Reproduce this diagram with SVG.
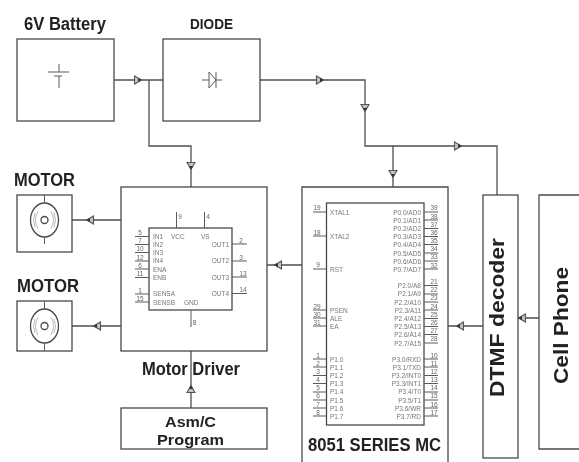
<svg xmlns="http://www.w3.org/2000/svg" width="579" height="462" viewBox="0 0 579 462">
<style>
.b{fill:none;stroke:#4a4a4a;stroke-width:1.3}
.c{fill:none;stroke:#4f4f4f;stroke-width:1.3}
.p{fill:none;stroke:#5a5a5a;stroke-width:1}
.q{fill:none;stroke:#aaa;stroke-width:.8}
.h{font-family:"Liberation Sans",Arial,sans-serif;font-weight:700;fill:#222}
.t{font-family:"Liberation Sans",Arial,sans-serif;font-size:6.500px;fill:#777}
.n{font-family:"Liberation Sans",Arial,sans-serif;font-size:6.500px;fill:#666;text-anchor:middle}
.e{text-anchor:end}
</style>
<defs>
<g id="ar"><path d="M-3.500,-4L3.500,0L-3.500,4Z" fill="#c4c4c4" stroke="#555" stroke-width="1.100"/><path d="M0,-2L3.500,0L0,2Z" fill="#333"/></g>
<filter id="s" x="0" y="0" width="100%" height="100%"><feGaussianBlur stdDeviation="0.45"/></filter>
</defs>
<rect width="579" height="462" fill="#fff"/>
<g filter="url(#s)">
<g id="connectors">
<path class="c" d="M114,80H163M149,80V146H191V187M260,80H365V146H497V195M393,146V187M72,220H121M72,326H121M302,265H267M191,351V408M448,326H483M518,318H539"/>
<use href="#ar" transform="translate(138,80)"/>
<use href="#ar" transform="translate(191,166) rotate(90)"/>
<use href="#ar" transform="translate(320,80)"/>
<use href="#ar" transform="translate(365,108) rotate(90)"/>
<use href="#ar" transform="translate(458,146)"/>
<use href="#ar" transform="translate(393,174) rotate(90)"/>
<use href="#ar" transform="translate(90,220) rotate(180)"/>
<use href="#ar" transform="translate(97,326) rotate(180)"/>
<use href="#ar" transform="translate(278,265) rotate(180)"/>
<use href="#ar" transform="translate(191,389) rotate(-90)"/>
<use href="#ar" transform="translate(460,326) rotate(180)"/>
<use href="#ar" transform="translate(522,318) rotate(180)"/>
</g>
<g id="battery">
<rect class="b" x="17" y="39" width="97" height="82"/>
<path class="p" d="M59,64V72M48,72H69M54,76H62M59,76V88"/>
<text class="h" x="24" y="30" font-size="18" textLength="82" lengthAdjust="spacingAndGlyphs">6V Battery</text>
</g>
<g id="diode">
<rect class="b" x="163" y="39" width="97" height="82"/>
<path class="p" d="M202,80H209M216,80H222M209,72L216,80L209,88ZM216,72V88"/>
<text class="h" x="190" y="28.500" font-size="15.500" textLength="43" lengthAdjust="spacingAndGlyphs">DIODE</text>
</g>
<g id="motor1">
<rect class="b" x="17" y="195" width="55" height="57"/>
<ellipse class="b" cx="44.500" cy="220" rx="14" ry="17"/>
<circle class="b" cx="44.500" cy="220" r="3.500"/>
<path class="p" d="M44.500,195V203M44.500,237V244"/>
<path class="q" d="M38,211Q33,220 38,229M51,211Q56,220 51,229M35,213Q32,220 35,227M54,213Q57,220 54,227"/>
<text class="h" x="14" y="186" font-size="18" textLength="61" lengthAdjust="spacingAndGlyphs">MOTOR</text>
</g>
<g id="motor2">
<rect class="b" x="17" y="301" width="55" height="50"/>
<ellipse class="b" cx="44.500" cy="326" rx="14" ry="17"/>
<circle class="b" cx="44.500" cy="326" r="3.500"/>
<path class="p" d="M44.500,301V309M44.500,343V351"/>
<path class="q" d="M38,317Q33,326 38,335M51,317Q56,326 51,335M35,319Q32,326 35,333M54,319Q57,326 54,333"/>
<text class="h" x="17" y="292" font-size="18" textLength="62" lengthAdjust="spacingAndGlyphs">MOTOR</text>
</g>
<g id="motor-driver">
<rect class="b" x="121" y="187" width="146" height="164"/>
<rect class="b" x="149" y="228" width="83" height="82"/>
<path class="p" d="M135,236.500H149M135,244.500H149M135,252.500H149M135,261H149M135,269H149M135,277.500H149M135,294H149M135,302H149M232,244H247M232,261H247M232,277H247M232,293.500H247M176.500,212V228M204.500,212V228M191,310V327"/>
<g class="n">
<text x="140" y="235">5</text><text x="140" y="243">7</text><text x="140" y="251">10</text><text x="140" y="259.500">12</text><text x="140" y="267.500">6</text><text x="140" y="276">11</text><text x="140" y="292.500">1</text><text x="140" y="300.500">15</text>
<text x="241" y="242.500">2</text><text x="241" y="259.500">3</text><text x="243" y="275.500">13</text><text x="243" y="292">14</text>
<text x="180" y="218.500">9</text><text x="208" y="218.500">4</text><text x="194.500" y="324.500">8</text>
</g>
<g class="t">
<text x="153" y="238.500">IN1</text><text x="153" y="246.500">IN2</text><text x="153" y="254.500">IN3</text><text x="153" y="263">IN4</text><text x="153" y="271.500">ENA</text><text x="153" y="279.500">ENB</text><text x="153" y="296">SENSA</text><text x="153" y="304.500">SENSB</text>
<text x="171" y="238.500">VCC</text><text x="201" y="238.500">VS</text><text x="184" y="304.500">GND</text>
<text class="e" x="229" y="246.500">OUT1</text><text class="e" x="229" y="263">OUT2</text><text class="e" x="229" y="279.500">OUT3</text><text class="e" x="229" y="296">OUT4</text>
</g>
<text class="h" x="142" y="375" font-size="18" textLength="98" lengthAdjust="spacingAndGlyphs">Motor Driver</text>
</g>
<g id="program">
<rect class="b" x="121" y="408" width="146" height="41"/>
<text class="h" x="165" y="427" font-size="15" textLength="51" lengthAdjust="spacingAndGlyphs">Asm/C</text>
<text class="h" x="157" y="444.500" font-size="15" textLength="67" lengthAdjust="spacingAndGlyphs">Program</text>
</g>
<g id="mcu">
<path class="b" d="M302,462V187H448V462"/>
<rect class="b" x="326.500" y="203" width="97.500" height="222"/>
<path class="p" d="M313,212H326M313,236H326M313,269H326M313,310H326M313,318H326M313,326H326M313,359H326M313,367H326M313,375.500H326M313,383.500H326M313,392H326M313,400H326M313,408H326M313,416H326"/>
<path class="p" d="M424,212H438M424,220H438M424,228.500H438M424,236.500H438M424,244.500H438M424,253H438M424,261H438M424,269H438M424,285.500H438M424,294H438M424,302H438M424,310H438M424,318.500H438M424,326.500H438M424,334.500H438M424,343H438M424,359H438M424,367H438M424,375.500H438M424,383.500H438M424,392H438M424,400H438M424,408H438M424,416H438"/>
<g class="n">
<text x="317" y="210">19</text><text x="317" y="234.500">18</text><text x="318" y="267">9</text><text x="317" y="308.500">29</text><text x="317" y="316.500">30</text><text x="317" y="324.500">31</text>
<text x="318" y="357.500">1</text><text x="318" y="365.500">2</text><text x="318" y="373.500">3</text><text x="318" y="382">4</text><text x="318" y="390">5</text><text x="318" y="398">6</text><text x="318" y="406.500">7</text><text x="318" y="414.500">8</text>
<text x="434" y="210">39</text><text x="434" y="218.500">38</text><text x="434" y="226.500">37</text><text x="434" y="234.500">36</text><text x="434" y="243">35</text><text x="434" y="251">34</text><text x="434" y="259">33</text><text x="434" y="267.500">32</text>
<text x="434" y="284">21</text><text x="434" y="292">22</text><text x="434" y="300">23</text><text x="434" y="308.500">24</text><text x="434" y="316.500">25</text><text x="434" y="325">26</text><text x="434" y="333">27</text><text x="434" y="341">28</text>
<text x="434" y="357.500">10</text><text x="434" y="365.500">11</text><text x="434" y="373.500">12</text><text x="434" y="382">13</text><text x="434" y="390">14</text><text x="434" y="398">15</text><text x="434" y="406.500">16</text><text x="434" y="414.500">17</text>
</g>
<g class="t">
<text x="330" y="214.500">XTAL1</text><text x="330" y="238.500">XTAL2</text><text x="330" y="271.500">RST</text><text x="330" y="312.500">PSEN</text><text x="330" y="320.500">ALE</text><text x="330" y="328.500">EA</text>
<text x="330" y="361.500">P1.0</text><text x="330" y="369.500">P1.1</text><text x="330" y="378">P1.2</text><text x="330" y="386">P1.3</text><text x="330" y="394">P1.4</text><text x="330" y="402.500">P1.5</text><text x="330" y="410.500">P1.6</text><text x="330" y="418.500">P1.7</text>
</g>
<g class="t e">
<text x="421" y="214.500">P0.0/AD0</text><text x="421" y="222.500">P0.1/AD1</text><text x="421" y="231">P0.2/AD2</text><text x="421" y="239">P0.3/AD3</text><text x="421" y="247">P0.4/AD4</text><text x="421" y="255.500">P0.5/AD5</text><text x="421" y="263.500">P0.6/AD6</text><text x="421" y="271.500">P0.7/AD7</text>
<text x="421" y="288">P2.0/A8</text><text x="421" y="296">P2.1/A9</text><text x="421" y="304.500">P2.2/A10</text><text x="421" y="312.500">P2.3/A11</text><text x="421" y="320.500">P2.4/A12</text><text x="421" y="329">P2.5/A13</text><text x="421" y="337">P2.6/A14</text><text x="421" y="345.500">P2.7/A15</text>
<text x="421" y="361.500">P3.0/RXD</text><text x="421" y="369.500">P3.1/TXD</text><text x="421" y="378">P3.2/INT0</text><text x="421" y="386">P3.3/INT1</text><text x="421" y="394">P3.4/T0</text><text x="421" y="402.500">P3.5/T1</text><text x="421" y="410.500">P3.6/WR</text><text x="421" y="418.500">P3.7/RD</text>
</g>
<text class="h" x="308" y="451" font-size="18" textLength="133" lengthAdjust="spacingAndGlyphs">8051 SERIES MC</text>
</g>
<g id="dtmf">
<rect class="b" x="483" y="195" width="35" height="263"/>
<text class="h" transform="translate(504,397) rotate(-90)" font-size="20" textLength="159" lengthAdjust="spacingAndGlyphs">DTMF decoder</text>
</g>
<g id="cellphone">
<path class="b" d="M579,195H539V449H579"/>
<text class="h" transform="translate(568,384) rotate(-90)" font-size="21" textLength="117" lengthAdjust="spacingAndGlyphs">Cell Phone</text>
</g>
</g>
</svg>
